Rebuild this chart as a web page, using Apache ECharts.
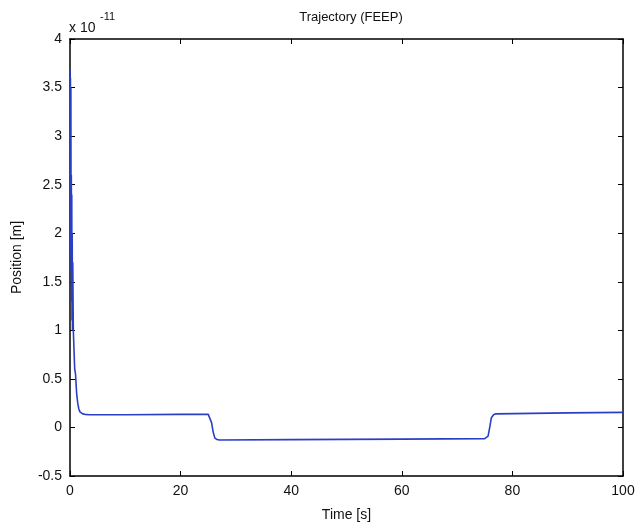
<!DOCTYPE html>
<html><head><meta charset="utf-8">
<script src="https://cdn.jsdelivr.net/npm/echarts@6/dist/echarts.min.js"></script>
<style>html,body{margin:0;padding:0;background:#fff}#c{width:640px;height:527px}</style>
</head><body><div id="c"></div>
<script>
// Time [s]
var times = [0, 0.04, 0.08, 0.12, 0.16, 0.2, 0.24, 0.28, 0.32, 0.36, 0.4, 0.45, 0.5, 0.6, 0.7, 0.8, 0.85, 0.9, 1.0, 1.1, 1.2, 1.4, 1.6, 1.8, 2.0, 2.3, 2.7, 3.5, 10, 20, 25, 25.3, 25.6, 25.9, 26.2, 26.6, 27, 40, 60, 75, 75.3, 75.6, 75.9, 76.2, 76.6, 77, 90, 100];
// Position [m], in units of 1e-11
var positions = [3.7, 2.3, 3.6, 1.8, 3.5, 1.6, 2.6, 1.3, 2.4, 1.1, 2.0, 1.0, 1.7, 1.0, 1.0, 1.0, 0.6, 0.6, 0.55, 0.45, 0.35, 0.25, 0.19, 0.16, 0.15, 0.14, 0.135, 0.13, 0.13, 0.135, 0.135, 0.12, 0.05, -0.05, -0.11, -0.125, -0.13, -0.125, -0.12, -0.115, -0.11, -0.09, 0.0, 0.1, 0.13, 0.14, 0.15, 0.155];
var xTicks = [0, 20, 40, 60, 80, 100];
var yTicks = [-0.5, 0, 0.5, 1, 1.5, 2, 2.5, 3, 3.5, 4];

var data = times.map(function(t, i){ return [t, positions[i]]; });
var font = 'Liberation Sans, Arial, sans-serif';
var chart = echarts.init(document.getElementById('c'));
var tickStyle = {show: true, inside: true, length: 5, lineStyle: {color: '#000', width: 1}};
var lineStyleAxis = {show: true, onZero: false, lineStyle: {color: '#000', width: 1.5}};
chart.setOption({
  animation: false,
  backgroundColor: '#fff',
  title: {text: 'Trajectory (FEEP)', left: 346, top: 6, textAlign: 'center',
    textStyle: {fontFamily: font, fontSize: 13, fontWeight: 'normal', color: '#111'}},
  graphic: [
    {type: 'text', left: 69, top: 21, style: {text: 'x 10', font: '14px ' + font, fill: '#111'}},
    {type: 'text', left: 100, top: 11, style: {text: '-11', font: '11px ' + font, fill: '#111'}}
  ],
  grid: {left: 70, right: 17, top: 39, bottom: 49, containLabel: false},
  xAxis: [{
    type: 'value', min: 0, max: 100, interval: 20, position: 'bottom',
    name: 'Time [s]', nameLocation: 'middle', nameGap: 32,
    nameTextStyle: {fontFamily: font, fontSize: 14, color: '#111'},
    axisLine: lineStyleAxis,
    axisTick: tickStyle, splitLine: {show: false},
    axisLabel: {fontFamily: font, fontSize: 14, color: '#111', margin: 8,
      formatter: function(v){ return xTicks.indexOf(v) >= 0 ? String(v) : ''; }}
  }, {
    type: 'value', min: 0, max: 100, interval: 20, position: 'top',
    axisLine: lineStyleAxis,
    axisTick: tickStyle, axisLabel: {show: false}, splitLine: {show: false}
  }],
  yAxis: [{
    type: 'value', min: -0.5, max: 4, interval: 0.5, position: 'left',
    name: 'Position [m]', nameLocation: 'middle', nameGap: 46, nameRotate: 90,
    nameTextStyle: {fontFamily: font, fontSize: 14, color: '#111'},
    axisLine: lineStyleAxis,
    axisTick: tickStyle, splitLine: {show: false},
    axisLabel: {fontFamily: font, fontSize: 14, color: '#111', margin: 8,
      formatter: function(v){ return yTicks.indexOf(v) >= 0 ? String(v) : ''; }}
  }, {
    type: 'value', min: -0.5, max: 4, interval: 0.5, position: 'right',
    axisLine: lineStyleAxis,
    axisTick: tickStyle, axisLabel: {show: false}, splitLine: {show: false}
  }],
  series: [{
    type: 'line', data: data, xAxisIndex: 0, yAxisIndex: 0,
    showSymbol: false, symbol: 'none', smooth: false,
    lineStyle: {color: '#2a3fc4', width: 1.6}
  }]
});
</script></body></html>
